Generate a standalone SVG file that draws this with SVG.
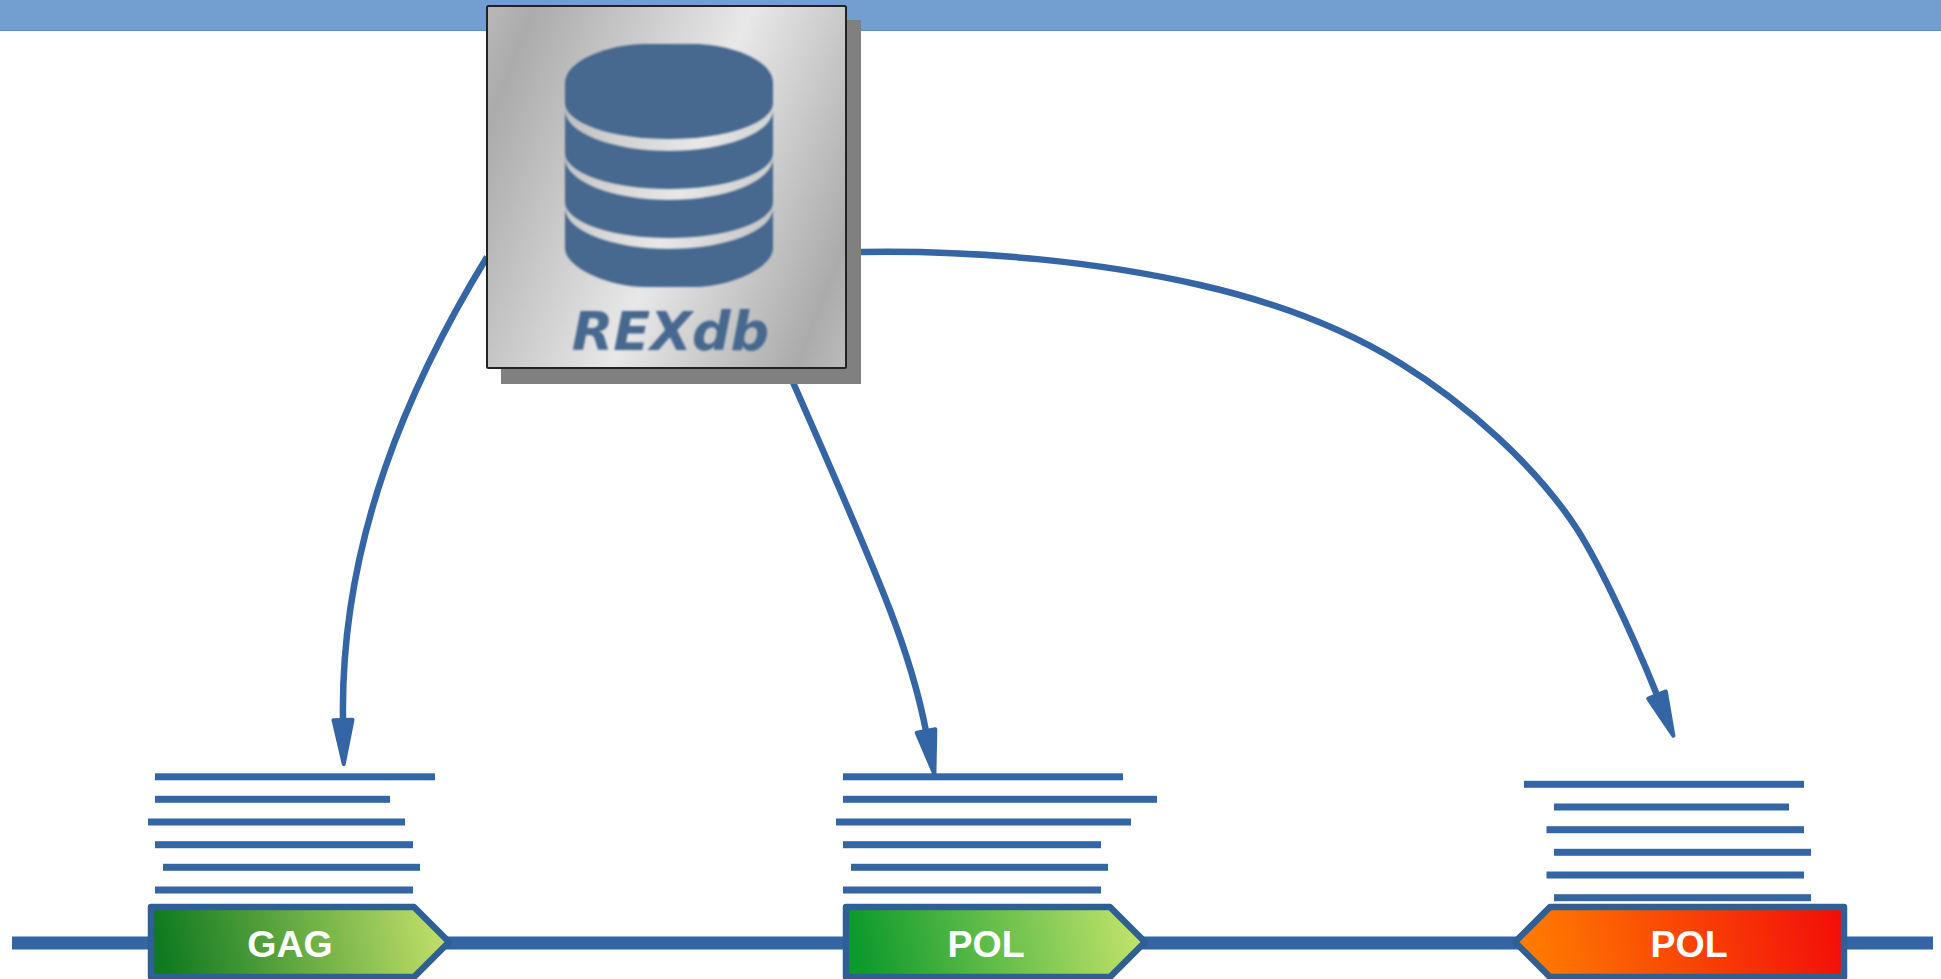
<svg xmlns="http://www.w3.org/2000/svg" width="1941" height="979" viewBox="0 0 1941 979">
<style>
.conn{fill:none;stroke:#3465a4;stroke-width:6.500}
.ln{fill:#3465a4}
.gene{stroke:#2e6096;stroke-width:6.500;stroke-linejoin:round}
.lbl{font-family:"Liberation Sans",Arial,sans-serif;font-weight:700;font-size:37.500px;fill:#fff;text-anchor:middle}
.db{fill:#46688f}
</style>
<defs>
<linearGradient id="silver" gradientUnits="userSpaceOnUse" x1="466" y1="182" x2="815.5" y2="318.5" spreadMethod="reflect">
<stop offset="0" stop-color="#ababab"/><stop offset="0.54" stop-color="#e8e8e8"/><stop offset="1" stop-color="#ababab"/>
</linearGradient>
<linearGradient id="gag" gradientUnits="userSpaceOnUse" x1="165" y1="965" x2="435" y2="905">
<stop offset="0" stop-color="#107a20"/><stop offset="1" stop-color="#c0de68"/>
</linearGradient>
<linearGradient id="pol" gradientUnits="userSpaceOnUse" x1="860" y1="965" x2="1130" y2="905">
<stop offset="0" stop-color="#0c9a2c"/><stop offset="1" stop-color="#c0e26a"/>
</linearGradient>
<linearGradient id="polr" gradientUnits="userSpaceOnUse" x1="1530" y1="965" x2="1840" y2="905">
<stop offset="0" stop-color="#ff7c00"/><stop offset="1" stop-color="#f30d0a"/>
</linearGradient>
<filter id="soft" x="-5%" y="-5%" width="110%" height="110%"><feGaussianBlur stdDeviation="0.8"/></filter>
<marker id="head" markerUnits="userSpaceOnUse" markerWidth="60" markerHeight="40" refX="2" refY="20" orient="auto" overflow="visible">
<path d="M2 10.500L46 20L2 29.500Z" fill="#3465a4" stroke="#3465a4" stroke-width="4" stroke-linejoin="round"/>
</marker>
</defs>

<rect id="topbar" x="-2" y="-2" width="1945" height="32.500" fill="#729fcf" stroke="#5f8dc2" stroke-width="1"/>

<g id="connectors">
<path class="conn" marker-end="url(#head)" d="M487 257C410 383 340 540 343 720"/>
<path class="conn" marker-end="url(#head)" d="M792 380C825 455 865 545 890 610C905 649 918 690 926 731"/>
<path class="conn" marker-end="url(#head)" d="M861 252C980 250 1100 262 1200 285C1270 301 1340 326 1400 363C1470 406 1535 467 1573 523C1595 555 1630 628 1657 695"/>
</g>

<g id="rexdb">
<rect x="501" y="20" width="360" height="364" fill="#808080"/>
<rect x="487" y="6" width="359" height="362" rx="1.500" fill="url(#silver)" stroke="#222" stroke-width="2"/>
<g id="rexdb-icon" class="db" filter="url(#soft)">
<path d="M565 83C565 60 610 44 645 44H693C730 44 773 60 773 83V103A104 36 0 0 1 565 103Z"/>
<path d="M565 110A104 41 0 0 0 773 110V153A104 36 0 0 1 565 153Z"/>
<path d="M565 158A104 42 0 0 0 773 158V202A104 36 0 0 1 565 202Z"/>
<path d="M565 208A104 41 0 0 0 773 208V248C773 268 730 287 693 287H645C610 287 565 268 565 248Z"/>
<text x="670.500" y="350" font-family="DejaVu Sans,sans-serif" font-weight="700" font-style="italic" font-size="54" text-anchor="middle">REXdb</text>
</g>
</g>

<g id="backbone"><rect class="ln" x="12" y="936.500" width="1921" height="13"/></g>

<g id="reads-gag">
<rect class="ln" x="155" y="773.300" width="280" height="7"/>
<rect class="ln" x="155" y="795.800" width="235" height="7"/>
<rect class="ln" x="148" y="818.500" width="257" height="7"/>
<rect class="ln" x="155" y="841.200" width="258" height="7"/>
<rect class="ln" x="163" y="863.800" width="257" height="7"/>
<rect class="ln" x="155" y="886.500" width="258" height="7"/>
</g>
<g id="reads-pol">
<rect class="ln" x="843" y="773.300" width="280" height="7"/>
<rect class="ln" x="843" y="795.800" width="314" height="7"/>
<rect class="ln" x="836" y="818.500" width="295" height="7"/>
<rect class="ln" x="843" y="841.200" width="258" height="7"/>
<rect class="ln" x="851" y="863.800" width="257" height="7"/>
<rect class="ln" x="843" y="886.500" width="258" height="7"/>
</g>
<g id="reads-polr">
<rect class="ln" x="1524" y="780.800" width="280" height="7"/>
<rect class="ln" x="1554" y="803.500" width="235" height="7"/>
<rect class="ln" x="1546.500" y="826.200" width="257.500" height="7"/>
<rect class="ln" x="1554" y="848.800" width="257" height="7"/>
<rect class="ln" x="1546.500" y="871.500" width="257.500" height="7"/>
<rect class="ln" x="1554" y="894.200" width="257" height="7"/>
</g>

<g id="gene-gag">
<path class="gene" fill="url(#gag)" d="M151 907H414L449 942L414 977H151Z"/>
<text class="lbl" x="290" y="957">GAG</text>
</g>
<g id="gene-pol">
<path class="gene" fill="url(#pol)" d="M846 907H1110L1145 942L1110 977H846Z"/>
<text class="lbl" x="986" y="957">POL</text>
</g>
<g id="gene-polr">
<path class="gene" fill="url(#polr)" d="M1844 907H1550L1515 942L1550 977H1844Z"/>
<text class="lbl" x="1689" y="957">POL</text>
</g>
</svg>
